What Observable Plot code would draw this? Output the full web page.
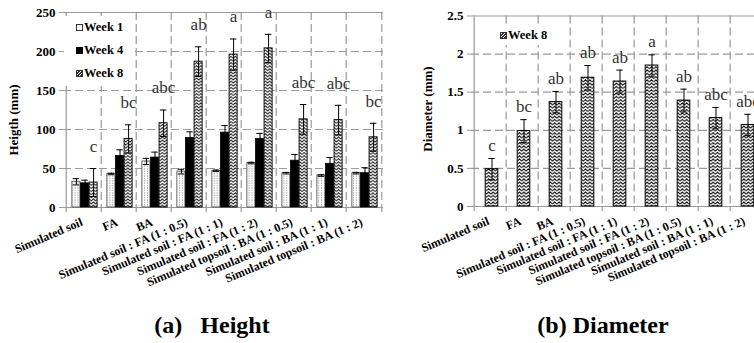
<!DOCTYPE html>
<html><head><meta charset="utf-8">
<script src="https://cdn.jsdelivr.net/npm/d3@7"></script>
<script src="https://cdn.jsdelivr.net/npm/@observablehq/plot@0.6"></script>
<style>
body{margin:0;background:#fff;}
#root{position:relative;width:754px;height:343px;overflow:hidden;background:#fff;font-family:"Liberation Serif","Times New Roman",serif;}
.ytitle{position:absolute;font-weight:bold;font-size:13px;white-space:nowrap;transform:translate(-50%,-50%) rotate(-90deg);}
.cap{position:absolute;font-weight:bold;font-size:24px;white-space:pre;transform:translate(-50%,-50%);}
.leg{position:absolute;background:#fff;font-weight:bold;font-size:12.5px;line-height:23px;}
.sw{display:inline-block;width:7px;height:7px;border:1px solid #333;margin-right:1px;vertical-align:0px;box-sizing:border-box;}
svg text{font-family:"Liberation Serif","Times New Roman",serif;}
</style></head><body><div id="root"></div>
<script>
const categories = ["Simulated soil","FA","BA","Simulated soil : FA (1 : 0.5)","Simulated soil : FA (1 : 1)","Simulated soil : FA (1 : 2)","Simulated topsoil : BA (1 : 0.5)","Simulated soil : BA (1 : 1)","Simulated topsoil : BA (1 : 2)"];
const heightWeek1 = [33, 43, 59, 46, 47, 57, 44, 41, 44];
const heightWeek1Err = [4, 1, 4, 3, 1, 1, 1, 1, 1];
const heightWeek4 = [31, 66, 64, 89, 96, 88, 60, 56, 44];
const heightWeek4Err = [4, 8, 7, 8, 9, 7, 8, 8, 7];
const heightWeek8 = [32, 88, 108, 187, 196, 204, 113, 112, 90];
const heightWeek8Err = [18, 18, 17, 19, 20, 18, 19, 19, 18];
const heightLetters = ["c","bc","abc","ab","a","a","abc","abc","bc"];
const heightTicks = [0, 50, 100, 150, 200, 250];
const diameterWeek8 = [0.49, 0.99, 1.37, 1.69, 1.64, 1.85, 1.39, 1.16, 1.07];
const diameterErr = [0.14, 0.15, 0.14, 0.16, 0.15, 0.14, 0.15, 0.14, 0.14];
const diameterLetters = ["c","bc","ab","ab","ab","a","ab","abc","abc"];
const diameterTicks = [0, 0.5, 1, 1.5, 2, 2.5];
const weekNames = ["Week 1","Week 4","Week 8"];

const root = document.getElementById("root");
const FONT = "Liberation Serif, Times New Roman, serif";
const GRID = "#9a9a9a";
const DASH = "8,4";

function gridMarks(bw, yTicks) {
  const top = yTicks[yTicks.length-1];
  return [
    Plot.ruleY(yTicks.slice(1, -1), {stroke: GRID, strokeDasharray: DASH, strokeWidth: 1.2}),
    Plot.ruleY([0, top], {stroke: GRID, strokeWidth: 1.2}),
    Plot.ruleX(categories.slice(1), {dx: -bw/2, stroke: GRID, strokeDasharray: DASH, strokeWidth: 1.2}),
    Plot.ruleX(categories.slice(-1), {dx: bw/2, stroke: GRID, strokeDasharray: DASH, strokeWidth: 1.2}),
    Plot.ruleX(categories.slice(0, 1), {dx: -bw/2, stroke: GRID, strokeWidth: 1.2}),
    Plot.ruleX(categories, {y1: 0, y2: 0, insetBottom: -5, dx: -bw/2, stroke: GRID, strokeWidth: 1.2}),
    Plot.ruleX(categories.slice(-1), {y1: 0, y2: 0, insetBottom: -5, dx: bw/2, stroke: GRID, strokeWidth: 1.2})
  ];
}
function errMarks(rows, val, err, dx, capInset) {
  return [
    Plot.ruleX(rows, {x: "cat", y1: d => d[val] - d[err], y2: d => d[val] + d[err], dx, stroke: "#000", strokeWidth: 1}),
    Plot.tickY(rows, {x: "cat", y: d => d[val] + d[err], dx, insetLeft: capInset, insetRight: capInset, stroke: "#000", strokeWidth: 1}),
    Plot.tickY(rows, {x: "cat", y: d => d[val] - d[err], dx, insetLeft: capInset, insetRight: capInset, stroke: "#000", strokeWidth: 1})
  ];
}
function addDefs(svg) {
  svg.insertAdjacentHTML("afterbegin", `<defs>
    <pattern id="dotsL" patternUnits="userSpaceOnUse" width="2.9" height="2.4">
      <rect width="2.9" height="2.4" fill="#fff"/><rect x="1" y="0.4" width="0.9" height="0.9" fill="#666"/></pattern>
    <pattern id="zigL" patternUnits="userSpaceOnUse" width="4.3" height="3.1">
      <rect width="4.3" height="3.1" fill="#fff"/><polyline points="0,2.6 2.15,0.5 4.3,2.6" fill="none" stroke="#000" stroke-width="0.9"/></pattern>
    <pattern id="zigR" patternUnits="userSpaceOnUse" width="4.4" height="3.3">
      <rect width="4.4" height="3.3" fill="#fff"/><polyline points="0,2.7 2.2,0.6 4.4,2.7" fill="none" stroke="#000" stroke-width="1"/></pattern>
  </defs>`);
}

// ---------- (a) Height ----------
const rowsH = categories.map((c, i) => ({cat: c, w1: heightWeek1[i], e1: heightWeek1Err[i], w4: heightWeek4[i], e4: heightWeek4Err[i], w8: heightWeek8[i], e8: heightWeek8Err[i], letter: heightLetters[i]}));
const bwL = 320 / 9, barL = 8.6, insL = (bwL - barL) / 2, capL = (bwL - 7) / 2, shiftL = 1;
const plotH = Plot.plot({
  width: 390, height: 300, marginLeft: 63, marginRight: 7, marginTop: 12, marginBottom: 93,
  style: {fontFamily: FONT, color: "#000", background: "transparent", overflow: "visible"},
  x: {type: "band", domain: categories, padding: 0},
  y: {domain: [0, 250]},
  marks: [
    ...gridMarks(bwL, heightTicks),
    Plot.axisY({ticks: heightTicks, tickSize: 4, tickPadding: 4, fontSize: 13, fontWeight: "bold", fontFamily: FONT, label: null, stroke: GRID}),
    Plot.axisX({tickRotate: -23, tickSize: 0, tickPadding: 14, dx: -2, fontSize: 12, fontWeight: "bold", fontFamily: FONT, label: null}),
    Plot.barY(rowsH, {x: "cat", y: "w1", fill: "url(#dotsL)", stroke: "#444", strokeWidth: 0.8, insetLeft: insL, insetRight: insL, dx: -barL + shiftL}),
    Plot.barY(rowsH, {x: "cat", y: "w4", fill: "#000", stroke: "#000", strokeWidth: 0.8, insetLeft: insL, insetRight: insL, dx: shiftL}),
    Plot.barY(rowsH, {x: "cat", y: "w8", fill: "url(#zigL)", stroke: "#000", strokeWidth: 0.9, insetLeft: insL, insetRight: insL, dx: barL + shiftL}),
    ...errMarks(rowsH, "w1", "e1", -barL + shiftL, capL),
    ...errMarks(rowsH, "w4", "e4", shiftL, capL),
    ...errMarks(rowsH, "w8", "e8", barL + shiftL, capL),
    Plot.text(rowsH, {x: "cat", y: d => d.w8 + d.e8, text: "letter", dx: barL + shiftL, dy: -22, fontSize: 17, fontWeight: "normal", fontFamily: FONT, fill: "#333"})
  ]
});
addDefs(plotH);
plotH.style.position = "absolute"; plotH.style.left = "0px"; plotH.style.top = "0px";
root.appendChild(plotH);

// ---------- (b) Diameter ----------
const rowsD = categories.map((c, i) => ({cat: c, v: diameterWeek8[i], e: diameterErr[i], letter: diameterLetters[i]}));
const bwR = 294 / 9, barR = 13.3, insR = (bwR - barR) / 2, capR = (bwR - 7) / 2, shiftR = 1.5;
const plotD = Plot.plot({
  width: 390, height: 300, marginLeft: 96, marginRight: 0, marginTop: 15.5, marginBottom: 94,
  style: {fontFamily: FONT, color: "#000", background: "transparent", overflow: "visible"},
  x: {type: "band", domain: categories, padding: 0},
  y: {domain: [0, 2.5]},
  marks: [
    ...gridMarks(bwR, diameterTicks),
    Plot.axisY({ticks: diameterTicks, tickFormat: d => String(d), tickSize: 4, tickPadding: 4, fontSize: 13, fontWeight: "bold", fontFamily: FONT, label: null, stroke: GRID}),
    Plot.axisX({tickRotate: -23, tickSize: 0, tickPadding: 14, dx: -2, fontSize: 12, fontWeight: "bold", fontFamily: FONT, label: null}),
    Plot.barY(rowsD, {x: "cat", y: "v", fill: "url(#zigR)", stroke: "#000", strokeWidth: 1, insetLeft: insR, insetRight: insR, dx: shiftR}),
    ...errMarks(rowsD, "v", "e", shiftR, capR),
    Plot.text(rowsD, {x: "cat", y: d => d.v + d.e, text: "letter", dx: shiftR, dy: -13, fontSize: 17, fontWeight: "normal", fontFamily: FONT, fill: "#333"})
  ]
});
addDefs(plotD);
plotD.style.position = "absolute"; plotD.style.left = "375px"; plotD.style.top = "0px";
root.appendChild(plotD);

// ---------- titles, legends, captions ----------
function el(cls, html, css) { const d = document.createElement("div"); d.className = cls; d.innerHTML = html; Object.assign(d.style, css); root.appendChild(d); return d; }
el("ytitle", "Heigth (mm)", {left: "14px", top: "120px"});
el("ytitle", "Diameter (mm)", {left: "428px", top: "109px"});
const hatch = "repeating-linear-gradient(135deg,#fff 0 1.2px,#333 1.2px 2.2px)";
const swH = [
  '<span class="sw" style="background:#fff"></span>',
  '<span class="sw" style="background:#000;border-color:#000"></span>',
  '<span class="sw" style="background:' + hatch + '"></span>'
];
el("leg", weekNames.map((w, i) => swH[i] + w).join("<br>"), {left: "64px", top: "16px", width: "68px", height: "70px", paddingLeft: "12px", boxSizing: "border-box"});
el("leg", '<span class="sw" style="background:' + hatch + '"></span>' + weekNames[2], {left: "499px", top: "25px", lineHeight: "20px", padding: "0 3px 0 1px"});
el("cap", "(a)   Height", {left: "212px", top: "325px"});
el("cap", "(b) Diameter", {left: "603px", top: "325px"});
</script>
</body></html>
